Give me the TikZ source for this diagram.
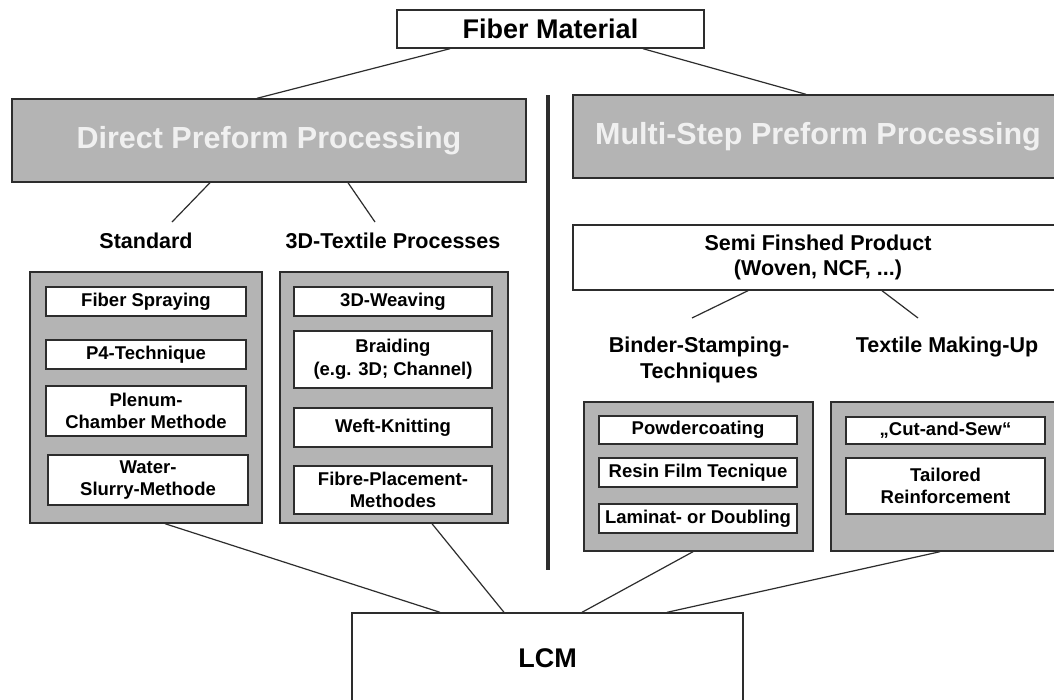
\documentclass[tikz,border=0pt]{standalone}
\usepackage{fontspec}
\setmainfont{Liberation Sans}
\definecolor{panelgray}{RGB}{180,180,180}
\definecolor{headtext}{RGB}{240,240,240}
\definecolor{edgegray}{RGB}{45,45,45}
\begin{document}
\begin{tikzpicture}[x=1pt,y=-1pt,
    box/.style={draw=edgegray,line width=1.4pt,fill=white,inner sep=0pt,align=center,
        font=\bfseries\fontsize{18.5}{22.5}\selectfont},
    panel/.style={draw=edgegray,line width=1.4pt,fill=panelgray,inner sep=0pt},
    head/.style={panel,text=headtext,font=\bfseries\fontsize{30.5}{34}\selectfont},
    grouplbl/.style={inner sep=0pt,align=center,font=\bfseries\fontsize{21.5}{26}\selectfont},
    link/.style={draw=edgegray,line width=1.2pt}]
    \useasboundingbox (0,0) rectangle (1054,699);
    \clip (0,0) rectangle (1054,699);
    \fill[white] (0,0) rectangle (1054,699);

    % top row
    \node[box,minimum width=307pt,minimum height=38pt,
        font=\bfseries\fontsize{27}{30}\selectfont] (fiber) at (550.5,29) {Fiber Material};
    \node[head,minimum width=514pt,minimum height=83pt] (direct) at (269,140.5) {Direct Preform Processing};
    \node[head,minimum width=490pt,minimum height=83pt] (multi) at (818,136.5) {Multi-Step Preform Processing};
    \draw[link] ([shift={(-100.5,0)}]fiber.south) -- ([shift={(-12,0)}]direct.north);
    \draw[link] ([shift={(92.5,0)}]fiber.south) -- ([shift={(-12,0)}]multi.north);

    % divider
    \coordinate (divtop) at (548,95);
    \coordinate (divbot) at (548,570);
    \draw[edgegray,line width=3.5pt] (divtop) -- (divbot);

    % direct preform side
    \node[grouplbl] (stdlbl) at (146,241) {Standard};
    \node[grouplbl] (texlbl) at (393,241) {3D-Textile Processes};
    \draw[link] ([shift={(-59,0)}]direct.south) -- ([shift={(26,-19)}]stdlbl.center);
    \draw[link] ([shift={(79,0)}]direct.south) -- ([shift={(-18,-19)}]texlbl.center);

    \node[panel,minimum width=232pt,minimum height=251pt] (stdgroup) at (146,397.5) {};
    \node[panel,minimum width=228pt,minimum height=251pt] (texgroup) at (394,397.5) {};

    \node[box,minimum width=200pt,minimum height=29pt] (spray) at (146,301.5) {Fiber Spraying};
    \node[box,minimum width=200pt,minimum height=29pt] (p4) at (146,354.5) {P4-Technique};
    \node[box,minimum width=200pt,minimum height=50pt] (plenum) at (146,411) {Plenum-\\Chamber Methode};
    \node[box,minimum width=200pt,minimum height=50pt] (water) at (148,480) {Water-\\Slurry-Methode};

    \node[box,minimum width=198pt,minimum height=29pt] (weave) at (393,301.5) {3D-Weaving};
    \node[box,minimum width=198pt,minimum height=57pt] (braid) at (393,359.5) {Braiding\\(e.g. 3D; Channel)};
    \node[box,minimum width=198pt,minimum height=39pt] (weft) at (393,427.5) {Weft-Knitting};
    \node[box,minimum width=198pt,minimum height=48pt] (placement) at (393,490) {Fibre-Placement-\\Methodes};

    % multi-step side
    \node[box,minimum width=490pt,minimum height=65pt,
        font=\bfseries\fontsize{21.5}{25}\selectfont] (semi) at (818,257.5) {Semi Finshed Product\\(Woven, NCF, ...)};
    \node[grouplbl] (binderlbl) at (699,360) {Binder-Stamping-\\Techniques};
    \node[grouplbl] (textilelbl) at (947,347) {Textile Making-Up};
    \draw[link] ([shift={(-70,0)}]semi.south) -- ([shift={(-7,-42)}]binderlbl.center);
    \draw[link] ([shift={(64,0)}]semi.south) -- ([shift={(-29,-29)}]textilelbl.center);

    \node[panel,minimum width=229pt,minimum height=149pt] (bindergroup) at (698.5,476.5) {};
    \node[panel,minimum width=229pt,minimum height=149pt] (textilegroup) at (945.5,476.5) {};

    \node[box,minimum width=198pt,minimum height=28pt] (powder) at (698,430) {Powdercoating};
    \node[box,minimum width=198pt,minimum height=29pt] (resin) at (698,472.5) {Resin Film Tecnique};
    \node[box,minimum width=198pt,minimum height=29pt] (laminat) at (698,518.5) {Laminat- or Doubling};

    \node[box,minimum width=199pt,minimum height=27pt] (cutsew) at (945.5,430.5) {„Cut-and-Sew“};
    \node[box,minimum width=199pt,minimum height=56pt] (tailored) at (945.5,486) {Tailored\\Reinforcement};

    % bottom
    \node[box,minimum width=391pt,minimum height=91pt,
        font=\bfseries\fontsize{27}{30}\selectfont] (lcm) at (547.5,658.5) {LCM};
    \draw[link] ([shift={(19,0)}]stdgroup.south) -- ([shift={(-107.5,0)}]lcm.north);
    \draw[link] ([shift={(38,0)}]texgroup.south) -- ([shift={(-43.5,0)}]lcm.north);
    \draw[link] ([shift={(-5.5,0)}]bindergroup.south) -- ([shift={(34.5,0)}]lcm.north);
    \draw[link] ([shift={(-5.5,0)}]textilegroup.south) -- ([shift={(119.5,0)}]lcm.north);
\end{tikzpicture}
\end{document}
